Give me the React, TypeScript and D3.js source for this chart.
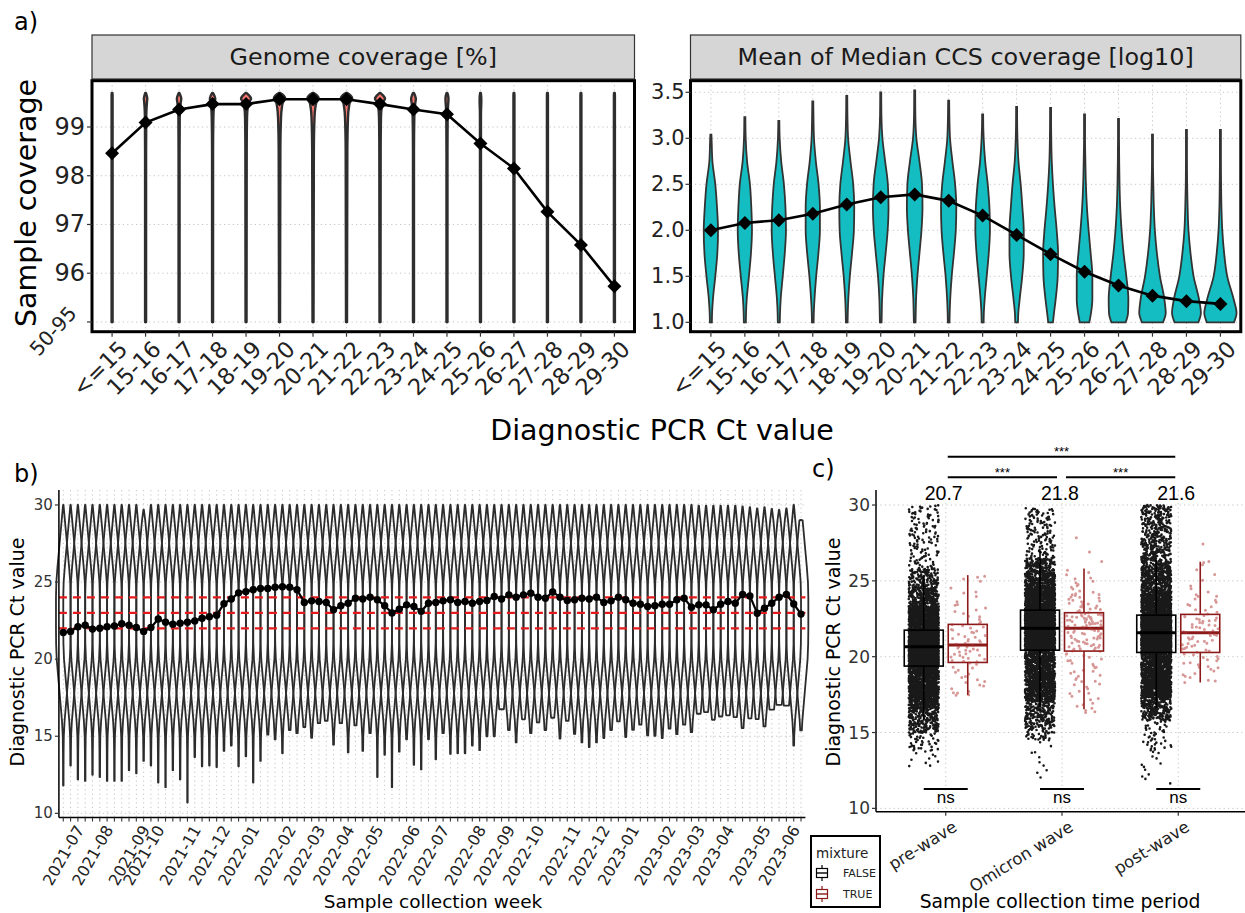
import React from "react";
import * as d3 from "d3";

const FONT = "'DejaVu Sans', Verdana, sans-serif";
const ARIAL = "'Liberation Sans', Arial, sans-serif";

// ---------------- Panel a data ----------------
const ctBins = ["<=15", "15-16", "16-17", "17-18", "18-19", "19-20", "20-21", "21-22", "22-23", "23-24", "24-25", "25-26", "26-27", "27-28", "28-29", "29-30"];
const genomeMean = [98.46, 99.09, 99.36, 99.47, 99.47, 99.57, 99.57, 99.57, 99.47, 99.36, 99.26, 98.66, 98.15, 97.26, 96.58, 95.73];
const genomeTop = [99.7, 99.7, 99.7, 99.7, 99.7, 99.7, 99.7, 99.7, 99.7, 99.7, 99.7, 99.7, 99.7, 99.7, 99.7, 99.7];
const genomeTicks = [95, 96, 97, 98, 99];
const genomeTickLabels = ["50-95", "96", "97", "98", "99"];
const genomeLevels = [95, 98.5, 99.2, 99.4, 99.5, 99.58, 99.64, 99.7];
const genomeWidths = [
  [0.03, 0.03, 0.03, 0.03, 0.03, 0.03, 0.03, 0.02],
  [0.03, 0.03, 0.04, 0.06, 0.08, 0.1, 0.07, 0.02],
  [0.03, 0.03, 0.04, 0.07, 0.1, 0.13, 0.09, 0.02],
  [0.03, 0.03, 0.05, 0.08, 0.12, 0.16, 0.11, 0.02],
  [0.03, 0.04, 0.06, 0.1, 0.16, 0.3, 0.2, 0.03],
  [0.03, 0.05, 0.09, 0.14, 0.2, 0.34, 0.26, 0.04],
  [0.03, 0.05, 0.09, 0.14, 0.2, 0.34, 0.26, 0.04],
  [0.03, 0.05, 0.09, 0.14, 0.2, 0.34, 0.26, 0.04],
  [0.03, 0.04, 0.06, 0.1, 0.16, 0.3, 0.2, 0.03],
  [0.03, 0.03, 0.05, 0.08, 0.11, 0.14, 0.1, 0.02],
  [0.03, 0.03, 0.04, 0.06, 0.08, 0.09, 0.07, 0.02],
  [0.03, 0.03, 0.03, 0.04, 0.05, 0.05, 0.04, 0.02],
  [0.03, 0.03, 0.03, 0.03, 0.03, 0.03, 0.03, 0.02],
  [0.03, 0.03, 0.03, 0.03, 0.03, 0.03, 0.03, 0.02],
  [0.03, 0.03, 0.03, 0.03, 0.03, 0.03, 0.03, 0.02],
  [0.03, 0.03, 0.03, 0.03, 0.03, 0.03, 0.03, 0.02],
];

const ccsMean = [2.0, 2.08, 2.11, 2.18, 2.28, 2.36, 2.39, 2.32, 2.16, 1.95, 1.74, 1.55, 1.4, 1.29, 1.23, 1.2];
const ccsTop = [3.04, 3.23, 3.19, 3.4, 3.46, 3.5, 3.52, 3.41, 3.26, 3.34, 3.33, 3.26, 3.21, 3.04, 3.09, 3.09];
const ccsTicks = [1.0, 1.5, 2.0, 2.5, 3.0, 3.5];
const ccsLevels = [1.0, 1.1, 1.25, 1.5, 1.75, 2.0, 2.25, 2.5, 2.75, 3.0, 3.25, 3.5];
const ccsWidths = [
  [0.06, 0.07, 0.12, 0.26, 0.38, 0.42, 0.36, 0.26, 0.09, 0.04, 0.03, 0.03],
  [0.06, 0.07, 0.11, 0.24, 0.36, 0.42, 0.38, 0.3, 0.13, 0.05, 0.03, 0.03],
  [0.06, 0.07, 0.11, 0.23, 0.35, 0.42, 0.39, 0.3, 0.14, 0.05, 0.03, 0.03],
  [0.05, 0.06, 0.1, 0.2, 0.33, 0.42, 0.42, 0.34, 0.18, 0.07, 0.04, 0.03],
  [0.05, 0.06, 0.09, 0.18, 0.31, 0.42, 0.44, 0.38, 0.22, 0.08, 0.04, 0.03],
  [0.05, 0.06, 0.08, 0.16, 0.29, 0.41, 0.46, 0.42, 0.26, 0.1, 0.04, 0.03],
  [0.05, 0.06, 0.08, 0.16, 0.28, 0.4, 0.46, 0.43, 0.28, 0.1, 0.04, 0.03],
  [0.05, 0.06, 0.09, 0.18, 0.31, 0.42, 0.45, 0.38, 0.22, 0.08, 0.04, 0.03],
  [0.06, 0.07, 0.12, 0.24, 0.36, 0.43, 0.4, 0.3, 0.15, 0.06, 0.03, 0.03],
  [0.08, 0.1, 0.18, 0.33, 0.42, 0.42, 0.34, 0.24, 0.11, 0.05, 0.03, 0.03],
  [0.14, 0.2, 0.3, 0.42, 0.44, 0.36, 0.24, 0.14, 0.07, 0.04, 0.03, 0.03],
  [0.28, 0.38, 0.46, 0.46, 0.36, 0.24, 0.14, 0.08, 0.05, 0.03, 0.03, 0.03],
  [0.42, 0.56, 0.58, 0.46, 0.3, 0.18, 0.1, 0.06, 0.04, 0.03, 0.03, 0.03],
  [0.62, 0.78, 0.7, 0.44, 0.26, 0.14, 0.08, 0.05, 0.03, 0.03, 0.03, 0.03],
  [0.7, 0.85, 0.74, 0.42, 0.24, 0.12, 0.07, 0.04, 0.03, 0.03, 0.03, 0.03],
  [0.8, 0.95, 0.78, 0.4, 0.22, 0.11, 0.06, 0.04, 0.03, 0.03, 0.03, 0.03],
];

// ---------------- Panel b data ----------------
const monthLabels = ["2021-07", "2021-08", "2021-09", "2021-10", "2021-11", "2021-12", "2022-01", "2022-02", "2022-03", "2022-04", "2022-05", "2022-06", "2022-07", "2022-08", "2022-09", "2022-10", "2022-11", "2022-12", "2023-01", "2023-02", "2023-03", "2023-04", "2023-05", "2023-06"];
const weeksPerMonth = [4, 5, 2, 5, 4, 4, 5, 4, 4, 4, 5, 4, 5, 4, 4, 5, 4, 4, 5, 4, 4, 5, 4, 4];
const weeklyMean = [
  21.73, 21.8, 22.1, 22.2, 21.95, 22.0, 22.1, 22.15, 22.3, 22.2,
  22.05, 21.8, 22.05, 22.6, 22.4, 22.27, 22.33, 22.4, 22.48, 22.65,
  22.75, 22.85, 23.6, 23.9, 24.3, 24.38, 24.5, 24.58, 24.58, 24.67,
  24.7, 24.67, 24.5, 23.67, 23.78, 23.74, 23.67, 23.2, 23.46, 23.63,
  23.95, 23.9, 24.02, 23.85, 23.46, 23.0, 23.24, 23.52, 23.41, 23.1,
  23.63, 23.67, 23.78, 23.85, 23.67, 23.74, 23.63, 23.74, 23.8, 24.06,
  23.9, 24.17, 24.02, 24.17, 24.28, 24.02, 23.95, 24.36, 24.02, 23.8,
  23.85, 23.95, 23.9, 24.02, 23.67, 23.78, 24.02, 23.85, 23.63, 23.56,
  23.41, 23.46, 23.56, 23.56, 23.85, 23.95, 23.37, 23.52, 23.52, 23.2,
  23.56, 23.74, 23.63, 24.2, 24.1, 22.98, 23.3, 23.63, 24.02, 24.2,
  23.58, 22.92,
];
const weeklyMin = [
  11.8, 13.1, 12.2, 12.1, 12.5, 12.35, 12.1, 12.1, 12.1, 12.8,
  12.6, 13.4, 13.1, 12.0, 11.7, 12.8, 12.2, 10.7, 13.65, 13.05,
  13.1, 13.0, 14.05, 14.4, 13.05, 13.7, 12.0, 13.4, 15.1, 14.8,
  13.9, 15.4, 15.2, 15.6, 14.9, 15.85, 16.0, 14.45, 15.85, 13.95,
  15.7, 14.05, 15.2, 12.35, 13.8, 11.7, 14.0, 14.8, 13.15, 12.85,
  14.8, 13.5, 15.2, 13.85, 13.9, 13.9, 14.4, 14.1, 15.0, 15.0,
  16.75, 15.4, 14.6, 16.1, 15.2, 15.9, 15.4, 16.2, 14.85, 16.0,
  15.15, 14.6, 14.3, 14.6, 14.88, 15.4, 15.96, 14.95, 15.42, 15.75,
  15.05, 15.03, 14.88, 15.49, 15.14, 15.75, 15.27, 16.46, 16.57, 16.07,
  16.28, 16.35, 16.24, 15.53, 16.16, 16.11, 15.64, 16.72, 17.04, 16.98,
  14.4, 15.38,
];
const weeklyMax = [
  30, 30, 30, 30, 30, 30, 30, 30, 30, 30,
  30, 29.7, 30, 30, 30, 30, 30, 30, 30, 30,
  30, 30, 30, 30, 30, 30, 30, 30, 30, 30,
  30, 30, 30, 30, 30, 30, 30, 30, 30, 30,
  30, 30, 30, 30, 30, 30, 30, 30, 30, 30,
  30, 30, 30, 30, 30, 30, 30, 30, 30, 30,
  30, 30, 30, 30, 30, 30, 30, 30, 30, 30,
  30, 30, 30, 30, 30, 30, 30, 30, 30, 30,
  30, 30, 30, 30, 30, 30, 30, 29.95, 29.95, 29.95,
  29.95, 29.95, 29.95, 29.9, 29.85, 29.78, 29.85, 29.74, 29.68, 29.78,
  30, 29.03,
];
const ctLevels = [10, 13, 14, 15, 16, 17, 18, 19, 20, 21, 22, 23, 24, 25, 26, 27, 28, 29, 30];
const ctWidths = [0.03, 0.035, 0.045, 0.07, 0.18, 0.36, 0.54, 0.72, 0.9, 0.98, 1.0, 1.0, 1.0, 0.95, 0.79, 0.6, 0.41, 0.22, 0.03];
const ctThresholds = [22, 23, 24];
const ctTicks = [10, 15, 20, 25, 30];

// ---------------- Panel c data ----------------
const periods = ["pre-wave", "Omicron wave", "post-wave"];
const periodMeanLabels = ["20.7", "21.8", "21.6"];
const falseBoxes = [
  { lo: 15.8, q1: 19.38, med: 20.65, q3: 21.75, hi: 25.3 },
  { lo: 16.5, q1: 20.43, med: 21.87, q3: 23.07, hi: 27.0 },
  { lo: 16.6, q1: 20.28, med: 21.58, q3: 22.74, hi: 26.4 },
];
const trueBoxes = [
  { lo: 17.47, q1: 19.62, med: 20.77, q3: 22.13, hi: 25.38 },
  { lo: 16.53, q1: 20.37, med: 21.87, q3: 22.9, hi: 25.82 },
  { lo: 18.3, q1: 20.28, med: 21.58, q3: 22.79, hi: 26.26 },
];
const falseProbs = [
  [0, 0.002, 0.01, 0.05, 0.25, 0.5, 0.75, 0.9, 0.95, 0.975, 1],
  [0, 0.002, 0.01, 0.05, 0.25, 0.5, 0.75, 0.9, 0.95, 0.975, 1],
  [0, 0.002, 0.01, 0.05, 0.25, 0.5, 0.75, 0.85, 0.92, 0.96, 1],
];
const falseQuantiles = [
  [12.7, 13.8, 15.0, 16.6, 19.38, 20.65, 21.75, 23.3, 24.6, 25.8, 30],
  [12.0, 14.5, 15.3, 17.0, 20.43, 21.87, 23.07, 24.6, 25.6, 26.5, 29.8],
  [11.6, 13.8, 15.8, 17.3, 20.28, 21.58, 22.74, 24.2, 26.0, 27.8, 30],
];
const falseCounts = [5200, 5200, 5800];
const trueProbs = [0, 0.02, 0.05, 0.1, 0.25, 0.5, 0.75, 0.9, 0.95, 0.98, 1];
const trueQuantiles = [
  [17.4, 17.5, 17.7, 18.2, 19.62, 20.77, 22.13, 23.7, 24.8, 25.3, 25.3],
  [16.3, 16.5, 17.2, 18.2, 20.37, 21.87, 22.9, 24.2, 25.0, 25.8, 28.0],
  [18.3, 18.4, 18.7, 19.2, 20.28, 21.58, 22.79, 24.3, 25.8, 26.3, 28.2],
];
const trueCounts = [80, 160, 90];
const sigBrackets = [
  { from: 0, to: 2, row: 0 },
  { from: 0, to: 1, row: 1 },
  { from: 1, to: 2, row: 1 },
];

// ---------------- helpers ----------------
type Pt = { v: number; w: number };
function violinPath(cx: number, half: number, levels: number[], widths: number[], lo: number, hi: number, y: (v: number) => number, endW = 0.03, linear = false): string {
  const wAt = d3.scaleLinear().domain(levels).range(widths).clamp(true);
  const pts: Pt[] = [];
  pts.push({ v: hi, w: Math.min(endW, wAt(hi)) });
  for (let i = levels.length - 1; i >= 0; i--) {
    if (levels[i] < hi && levels[i] > lo) pts.push({ v: levels[i], w: widths[i] });
  }
  pts.push({ v: lo, w: wAt(lo) });
  const area = d3
    .area<Pt>()
    .y((d) => y(d.v))
    .x0((d) => cx - d.w * half)
    .x1((d) => cx + d.w * half)
    .curve(linear ? d3.curveLinear : d3.curveMonotoneY);
  return area(pts) || "";
}

function diamond(cx: number, cy: number, r: number) {
  return `M${cx},${cy - r}L${cx + r},${cy}L${cx},${cy + r}L${cx - r},${cy}Z`;
}

// deterministic jitter offset in [0,1) (position noise only; values come from the quantile table)
function jit(i: number, k: number) {
  const s = Math.sin(i * 127.1 + k * 311.7) * 43758.5453;
  return s - Math.floor(s);
}

function cloudPath(cx: number, halfW: number, probs: number[], qs: number[], n: number, r: number, y: (v: number) => number, seed: number) {
  const q = d3.scaleLinear().domain(probs).range(qs);
  let d = "";
  for (let i = 0; i < n; i++) {
    const v = (i + jit(i, seed)) / n;
    const u = jit(i, seed + 7.3);
    const px = cx + (u * 2 - 1) * halfW;
    const py = y(q(v));
    d += `M${(px - r).toFixed(2)},${py.toFixed(2)}a${r},${r} 0 1,0 ${2 * r},0a${r},${r} 0 1,0 ${-2 * r},0`;
  }
  return d;
}

const GRID = "#C4C4C4";
const DOT = "1.2,3.2";

export default function App() {
  // ---------- panel a scales ----------
  const LA = { x0: 92, x1: 634.5, y0: 80.7, y1: 331.7 };
  const RA = { x0: 690.5, x1: 1240.8, y0: 80.7, y1: 331.7 };
  const xL = d3.scalePoint<string>().domain(ctBins).range([LA.x0, LA.x1]).padding(0.6);
  const yL = d3.scaleLinear().domain([94.8, 99.95]).range([LA.y1, LA.y0]);
  const xR = d3.scalePoint<string>().domain(ctBins).range([RA.x0, RA.x1]).padding(0.6);
  const yR = d3.scaleLinear().domain([0.898, 3.626]).range([RA.y1, RA.y0]);
  const halfL = xL.step() / 2;
  const halfR = xR.step() / 2;

  const lineL = d3.line<number>().x((_, i) => xL(ctBins[i])!).y((d) => yL(d));
  const lineR = d3.line<number>().x((_, i) => xR(ctBins[i])!).y((d) => yR(d));

  // ---------- panel b scales ----------
  const weeks: string[] = [];
  const monthStart: Record<string, string> = {};
  monthLabels.forEach((m, mi) => {
    for (let k = 0; k < weeksPerMonth[mi]; k++) {
      const id = `${m}-w${k + 1}`;
      weeks.push(id);
      if (k === 0) monthStart[id] = m;
    }
  });
  const B = { x0: 58.9, x1: 805.4, y0: 490, y1: 817.5 };
  const xB = d3.scalePoint<string>().domain(weeks).range([B.x0, B.x1]).padding(0.6);
  const yB = d3.scaleLinear().domain([9.73, 30.97]).range([B.y1, B.y0]);
  const stepB = xB.step();
  const lineB = d3.line<number>().x((_, i) => xB(weeks[i])!).y((d) => yB(d));

  // ---------- panel c scales ----------
  const C = { x0: 876, x1: 1248, y0: 490, y1: 811.7 };
  const xC = d3.scalePoint<string>().domain(periods).range([C.x0, C.x1]).padding(0.6);
  const yC = d3.scaleLinear().domain([9.78, 30.99]).range([C.y1, C.y0]);
  const dodge = 22;
  const boxW = 39;
  const RED = "#8B1A1A";

  const boxEl = (cx: number, b: { lo: number; q1: number; med: number; q3: number; hi: number }, color: string, key: string) => (
    <g key={key} stroke={color} strokeWidth={1.6}>
      <line x1={cx} x2={cx} y1={yC(b.hi)} y2={yC(b.q3)} />
      <line x1={cx} x2={cx} y1={yC(b.q1)} y2={yC(b.lo)} />
      <rect x={cx - boxW / 2} y={yC(b.q3)} width={boxW} height={yC(b.q1) - yC(b.q3)} fill="#fff" />
      <line x1={cx - boxW / 2} x2={cx + boxW / 2} y1={yC(b.med)} y2={yC(b.med)} strokeWidth={3} />
    </g>
  );

  return (
    <svg width={1245} height={913} style={{ position: "absolute", left: 0, top: 0, background: "#fff" }} fontFamily={FONT}>
      <defs>
        <clipPath id="clipL"><rect x={LA.x0} y={LA.y0} width={LA.x1 - LA.x0} height={LA.y1 - LA.y0} /></clipPath>
        <clipPath id="clipR"><rect x={RA.x0} y={RA.y0} width={RA.x1 - RA.x0} height={RA.y1 - RA.y0} /></clipPath>
        <clipPath id="clipC"><rect x={C.x0} y={C.y0 - 5} width={1245 - C.x0} height={C.y1 - C.y0 + 5} /></clipPath>
      </defs>
      <rect x={0} y={0} width={1245} height={913} fill="#fff" />

      {/* ================= Panel a ================= */}
      <text x={14} y={30} fontSize={24} fill="#000">a)</text>
      <rect x={LA.x0} y={35} width={LA.x1 - LA.x0} height={44} fill="#D6D6D6" stroke="#333" strokeWidth={1.2} />
      <text x={(LA.x0 + LA.x1) / 2} y={57} fontSize={23.8} textAnchor="middle" dominantBaseline="central" fill="#1a1a1a">Genome coverage [%]</text>
      <rect x={RA.x0} y={35} width={RA.x1 - RA.x0} height={44} fill="#D6D6D6" stroke="#333" strokeWidth={1.2} />
      <text x={(RA.x0 + RA.x1) / 2} y={57} fontSize={23.8} textAnchor="middle" dominantBaseline="central" fill="#1a1a1a">Mean of Median CCS coverage [log10]</text>

      {/* left grid */}
      <g stroke={GRID} strokeDasharray={DOT} strokeWidth={1}>
        {genomeTicks.map((t) => (<line key={"lgh" + t} x1={LA.x0} x2={LA.x1} y1={yL(t)} y2={yL(t)} />))}
        {ctBins.map((c) => (<line key={"lgv" + c} x1={xL(c)} x2={xL(c)} y1={LA.y0} y2={LA.y1} />))}
      </g>
      <g clipPath="url(#clipL)">
        {ctBins.map((c, i) => (
          <path key={"lv" + c} d={violinPath(xL(c)!, halfL, genomeLevels, genomeWidths[i], 95, genomeTop[i], yL, 0.02)} fill="#F8766D" stroke="#2e2e2e" strokeWidth={2.4} strokeLinejoin="round" />
        ))}
        <path d={lineL(genomeMean) || ""} fill="none" stroke="#000" strokeWidth={2.6} />
        {genomeMean.map((v, i) => (<path key={"ld" + i} d={diamond(xL(ctBins[i])!, yL(v), 7)} fill="#000" />))}
      </g>
      <rect x={LA.x0} y={LA.y0} width={LA.x1 - LA.x0} height={LA.y1 - LA.y0} fill="none" stroke="#000" strokeWidth={3} />
      {genomeTicks.map((t, i) => (
        <g key={"lyt" + t}>
          <line x1={LA.x0 - 5} x2={LA.x0} y1={yL(t)} y2={yL(t)} stroke="#333" strokeWidth={1.2} />
          {i === 0 ? (
            <text transform={`translate(53,331) rotate(-48)`} fontSize={20} textAnchor="middle" dominantBaseline="central" fill="#222">{genomeTickLabels[i]}</text>
          ) : (
            <text x={LA.x0 - 7} y={yL(t)} fontSize={24} textAnchor="end" dominantBaseline="central" fill="#222">{genomeTickLabels[i]}</text>
          )}
        </g>
      ))}
      {ctBins.map((c) => (
        <g key={"lxt" + c}>
          <line x1={xL(c)} x2={xL(c)} y1={LA.y1} y2={LA.y1 + 5} stroke="#333" strokeWidth={1.2} />
          <text transform={`translate(${xL(c)! + 5},${LA.y1 + 7}) rotate(-45)`} fontSize={22.5} textAnchor="end" dominantBaseline="hanging" fill="#222">{c}</text>
        </g>
      ))}
      <text transform={`translate(26,203) rotate(-90)`} fontSize={28.5} textAnchor="middle" dominantBaseline="central" fill="#000">Sample coverage</text>

      {/* right grid */}
      <g stroke={GRID} strokeDasharray={DOT} strokeWidth={1}>
        {ccsTicks.map((t) => (<line key={"rgh" + t} x1={RA.x0} x2={RA.x1} y1={yR(t)} y2={yR(t)} />))}
        {ctBins.map((c) => (<line key={"rgv" + c} x1={xR(c)} x2={xR(c)} y1={RA.y0} y2={RA.y1} />))}
      </g>
      <g clipPath="url(#clipR)">
        {ctBins.map((c, i) => (
          <path key={"rv" + c} d={violinPath(xR(c)!, halfR, ccsLevels, ccsWidths[i], 1.0, ccsTop[i], yR, 0.03)} fill="#14BDC1" stroke="#333" strokeWidth={1.8} />
        ))}
        <path d={lineR(ccsMean) || ""} fill="none" stroke="#000" strokeWidth={2.6} />
        {ccsMean.map((v, i) => (<path key={"rd" + i} d={diamond(xR(ctBins[i])!, yR(v), 7)} fill="#000" />))}
      </g>
      <rect x={RA.x0} y={RA.y0} width={RA.x1 - RA.x0} height={RA.y1 - RA.y0} fill="none" stroke="#000" strokeWidth={3} />
      {ccsTicks.map((t) => (
        <g key={"ryt" + t}>
          <line x1={RA.x0 - 5} x2={RA.x0} y1={yR(t)} y2={yR(t)} stroke="#333" strokeWidth={1.2} />
          <text x={RA.x0 - 6} y={yR(t)} fontSize={21} textAnchor="end" dominantBaseline="central" fill="#222">{d3.format(".1f")(t)}</text>
        </g>
      ))}
      {ctBins.map((c) => (
        <g key={"rxt" + c}>
          <line x1={xR(c)} x2={xR(c)} y1={RA.y1} y2={RA.y1 + 5} stroke="#333" strokeWidth={1.2} />
          <text transform={`translate(${xR(c)! + 5},${RA.y1 + 7}) rotate(-45)`} fontSize={22.5} textAnchor="end" dominantBaseline="hanging" fill="#222">{c}</text>
        </g>
      ))}
      <text x={662} y={430} fontSize={28.5} textAnchor="middle" dominantBaseline="central" fill="#000">Diagnostic PCR Ct value</text>

      {/* ================= Panel b ================= */}
      <text x={14} y={482} fontSize={24} fill="#000">b)</text>
      <g stroke={GRID} strokeDasharray={DOT} strokeWidth={1}>
        {weeks.map((w) => (<line key={"bgv" + w} x1={xB(w)} x2={xB(w)} y1={B.y0} y2={B.y1} />))}
        {ctTicks.map((t) => (<line key={"bgh" + t} x1={B.x0} x2={B.x1} y1={yB(t)} y2={yB(t)} />))}
      </g>
      <g>
        {weeks.map((w, i) => (
          <path key={"bv" + w} d={violinPath(xB(w)!, stepB, ctLevels, ctWidths, weeklyMin[i], weeklyMax[i], yB, 0.03, true)} fill="none" stroke="#2c2c2c" strokeWidth={1.8} strokeLinejoin="round" />
        ))}
      </g>
      <g stroke="#E41A1C" strokeWidth={2.2} strokeDasharray="8,6">
        {ctThresholds.map((t) => (<line key={"thr" + t} x1={B.x0} x2={B.x1} y1={yB(t)} y2={yB(t)} />))}
      </g>
      <path d={lineB(weeklyMean) || ""} fill="none" stroke="#000" strokeWidth={2.2} />
      {weeklyMean.map((v, i) => (<circle key={"bm" + i} cx={xB(weeks[i])} cy={yB(v)} r={3.7} fill="#000" />))}
      <line x1={B.x0} x2={B.x0} y1={B.y0} y2={B.y1} stroke="#000" strokeWidth={1.5} />
      <line x1={B.x0} x2={B.x1} y1={B.y1} y2={B.y1} stroke="#000" strokeWidth={1.5} />
      {ctTicks.map((t) => (
        <g key={"byt" + t}>
          <line x1={B.x0 - 4} x2={B.x0} y1={yB(t)} y2={yB(t)} stroke="#333" strokeWidth={1.2} />
          <text x={B.x0 - 6} y={yB(t)} fontSize={15} textAnchor="end" dominantBaseline="central" fill="#333">{t}</text>
        </g>
      ))}
      {weeks.map((w) => (
        <g key={"bxt" + w}>
          <line x1={xB(w)} x2={xB(w)} y1={B.y1} y2={B.y1 + 4} stroke="#333" strokeWidth={1.1} />
          {monthStart[w] ? (
            <text transform={`translate(${xB(w)! + 11},${B.y1 + 6}) rotate(-60)`} fontSize={15.8} textAnchor="end" dominantBaseline="hanging" fill="#222">{monthStart[w]}</text>
          ) : null}
        </g>
      ))}
      <text transform={`translate(17,652) rotate(-90)`} fontSize={19} textAnchor="middle" dominantBaseline="central" fill="#000">Diagnostic PCR Ct value</text>
      <text x={433} y={901} fontSize={18.5} textAnchor="middle" dominantBaseline="central" fill="#000">Sample collection week</text>

      {/* ================= Panel c ================= */}
      <text x={812} y={477} fontSize={24} fill="#000">c)</text>
      <g stroke={GRID} strokeDasharray={DOT} strokeWidth={1}>
        {ctTicks.map((t) => (<line key={"cgh" + t} x1={C.x0} x2={1245} y1={yC(t)} y2={yC(t)} />))}
        {periods.map((p) => (<line key={"cgv" + p} x1={xC(p)} x2={xC(p)} y1={C.y0} y2={C.y1} />))}
      </g>
      <g clipPath="url(#clipC)">
        {periods.map((p, i) => boxEl(xC(p)! - dodge, falseBoxes[i], "#000", "fb" + i))}
        {periods.map((p, i) => (
          <path key={"fc" + i} d={cloudPath(xC(p)! - dodge, 15, falseProbs[i], falseQuantiles[i], falseCounts[i], 1.3, yC, 1 + i * 3)} fill="#000" fillOpacity={0.9} />
        ))}
        {periods.map((p, i) => boxEl(xC(p)! + dodge, trueBoxes[i], RED, "tb" + i))}
        {periods.map((p, i) => (
          <path key={"tc" + i} d={cloudPath(xC(p)! + dodge, 18, trueProbs, trueQuantiles[i], trueCounts[i], 1.5, yC, 20 + i * 3)} fill="#B03030" fillOpacity={0.5} />
        ))}
      </g>
      <line x1={C.x0} x2={C.x0} y1={C.y0} y2={C.y1} stroke="#000" strokeWidth={1.5} />
      <line x1={C.x0} x2={1245} y1={C.y1} y2={C.y1} stroke="#000" strokeWidth={1.5} />
      {ctTicks.map((t) => (
        <g key={"cyt" + t}>
          <line x1={C.x0 - 4} x2={C.x0} y1={yC(t)} y2={yC(t)} stroke="#333" strokeWidth={1.2} />
          <text x={C.x0 - 6} y={yC(t)} fontSize={17} textAnchor="end" dominantBaseline="central" fill="#333">{t}</text>
        </g>
      ))}
      {periods.map((p) => (
        <g key={"cxt" + p}>
          <line x1={xC(p)} x2={xC(p)} y1={C.y1} y2={C.y1 + 4} stroke="#333" strokeWidth={1.2} />
          <text transform={`translate(${xC(p)! + 6},${C.y1 + 8}) rotate(-32)`} fontSize={16.5} textAnchor="end" dominantBaseline="hanging" fill="#222">{p}</text>
        </g>
      ))}
      {periods.map((p, i) => (
        <text key={"cm" + p} x={xC(p)! - 2} y={493} fontSize={19.5} fontFamily={ARIAL} textAnchor="middle" dominantBaseline="central" fill="#000">{periodMeanLabels[i]}</text>
      ))}
      {sigBrackets.map((s, i) => {
        const yy = s.row === 0 ? 456.7 : 477.3;
        const xa = xC(periods[s.from])! + (s.from === 1 ? 4 : 2);
        const xb = xC(periods[s.to])! - (s.to === 1 ? 5 : 3);
        return (
          <g key={"sig" + i}>
            <line x1={xa} x2={xb} y1={yy} y2={yy} stroke="#000" strokeWidth={2} />
            <text x={(xa + xb) / 2} y={yy - 0.5} fontSize={13} fontFamily={ARIAL} textAnchor="middle" fill="#000">***</text>
          </g>
        );
      })}
      {periods.map((p, i) => {
        const xa = xC(p)! - dodge;
        const xb = xC(p)! + dodge;
        const yy = yC(11.28);
        return (
          <g key={"ns" + i}>
            <line x1={xa} x2={xb} y1={yy} y2={yy} stroke="#000" strokeWidth={2} />
            <text x={xC(p)} y={803} fontSize={17} fontFamily={ARIAL} textAnchor="middle" fill="#000">ns</text>
          </g>
        );
      })}
      <text transform={`translate(833,652) rotate(-90)`} fontSize={19} textAnchor="middle" dominantBaseline="central" fill="#000">Diagnostic PCR Ct value</text>
      <text x={1060} y={901} fontSize={18.8} textAnchor="middle" dominantBaseline="central" fill="#000">Sample collection time period</text>

      {/* legend */}
      <rect x={811} y={836} width={69} height={71} fill="#fff" stroke="#000" strokeWidth={2} />
      <text x={816} y={853} fontSize={13.5} dominantBaseline="central" fill="#222">mixture</text>
      {[{ lab: "FALSE", col: "#000", y: 873 }, { lab: "TRUE", col: RED, y: 894 }].map((k) => (
        <g key={"lg" + k.lab}>
          <line x1={822} x2={822} y1={k.y - 8} y2={k.y + 8} stroke={k.col} strokeWidth={1.2} />
          <rect x={816.5} y={k.y - 4.5} width={11} height={9} fill="#fff" stroke={k.col} strokeWidth={1.2} />
          <line x1={816.5} x2={827.5} y1={k.y} y2={k.y} stroke={k.col} strokeWidth={1.4} />
          <text x={843} y={k.y} fontSize={11} dominantBaseline="central" fill="#222">{k.lab}</text>
        </g>
      ))}
    </svg>
  );
}
